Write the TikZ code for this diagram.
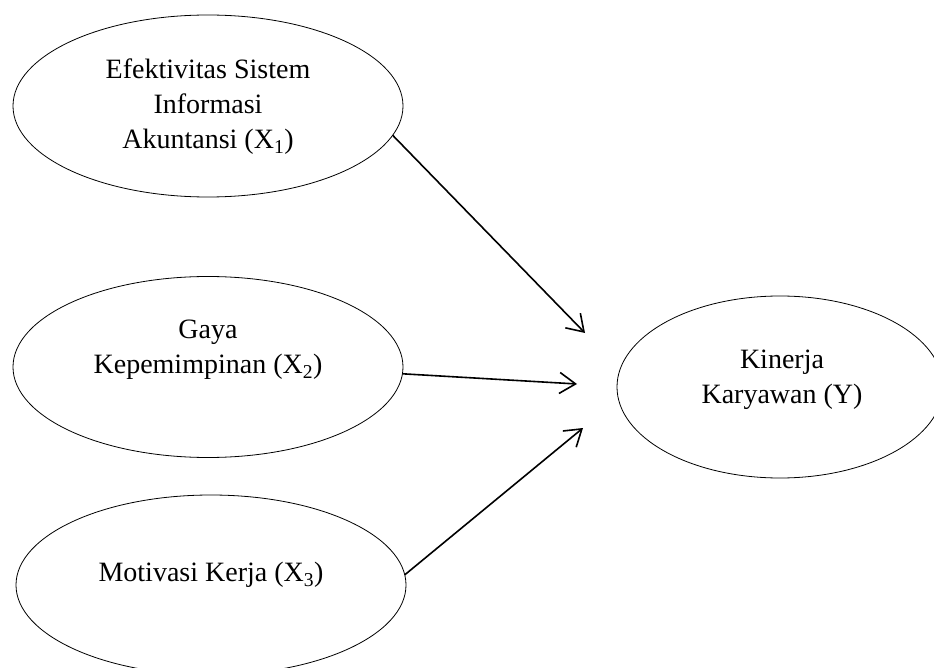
\documentclass[tikz,border=0pt]{standalone}
\usepackage{fontspec}
\setmainfont{Liberation Serif}
\usetikzlibrary{shapes.geometric,arrows.meta}
\tikzset{
  var/.style={draw=black, line width=0.8pt, ellipse, inner sep=0pt, outer sep=0pt},
  lbl/.style={align=center, font=\fontsize{28}{35}\selectfont, inner sep=0pt},
  arr/.style={line width=1.6pt, -{Straight Barb[length=16pt,width=21pt,line width=1.6pt]}}
}
\begin{document}
\begin{tikzpicture}[x=1pt,y=-1pt]
\useasboundingbox (0,0) rectangle (934,668);
\node[var, minimum width=390pt, minimum height=182pt] (e1) at (208,106) {};
\node[var, minimum width=390pt, minimum height=181pt] (e2) at (208,367) {};
\node[var, minimum width=390pt, minimum height=180pt] (e3) at (211,585) {};
\node[var, minimum width=326pt, minimum height=182pt] (e4) at (780,387) {};
\node[lbl] (t1) at (208,107) {Efektivitas Sistem\\Informasi\\Akuntansi (X\textsubscript{1})};
\node[lbl] (t2) at (208,350) {Gaya\\Kepemimpinan (X\textsubscript{2})};
\node[lbl] (t3) at (211,575) {Motivasi Kerja (X\textsubscript{3})};
\node[lbl] (t4) at (782,380) {Kinerja\\Karyawan (Y)};
\coordinate (h1) at (585,333);
\coordinate (h2) at (577,384);
\coordinate (h3) at (583,428);
\draw[arr] (e1.-9) -- (h1);
\draw[arr] (e2.-2) -- (h2);
\draw[arr] (e3.3) -- (h3);
\end{tikzpicture}
\end{document}
